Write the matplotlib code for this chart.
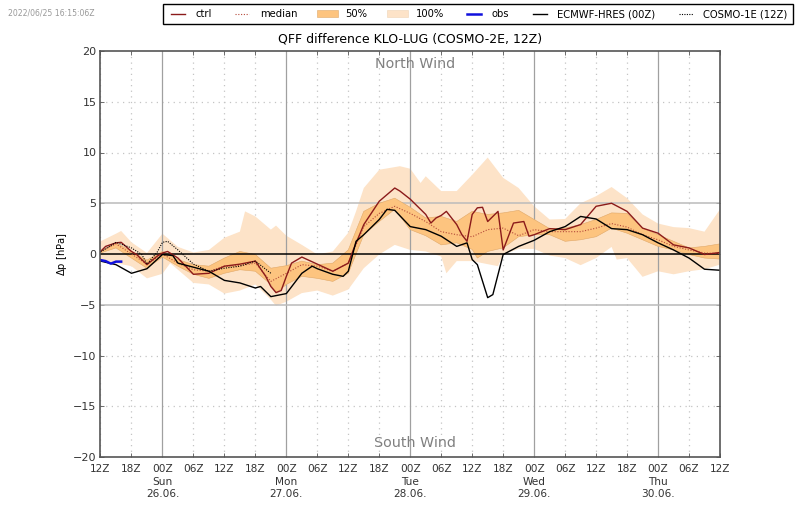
import numpy as np
import matplotlib
matplotlib.use("Agg")
import matplotlib.pyplot as plt
from matplotlib.patches import Patch
from matplotlib.lines import Line2D
from matplotlib.legend_handler import HandlerLine2D

# hours after the 12Z start, 3-hourly base grid
hours = list(range(0, 121, 3))

# 100% envelope
upper100_h = [0, 3, 4, 6, 9, 12, 15, 18, 21, 24, 27, 28, 30, 33, 34, 36, 39, 42, 45, 48, 49.5, 51, 54, 58, 60, 62,
              63, 66, 69, 72, 75, 78, 81, 84, 87, 90, 93, 96, 99, 102, 105, 108, 111, 114, 117, 120]
upper100 = [1.25, 2.0, 2.27, 1.15, 0.1, 2.0, 0.7, 0.15, 0.4, 1.6, 2.2, 4.2, 3.7, 2.4, 2.8, 1.8, 0.9, -0.05, 0.25, 2.1,
            4.2, 6.5, 8.3, 8.65, 8.4, 7.0, 7.66, 6.2, 6.2, 7.8, 9.5, 7.5, 6.5, 4.7, 3.4, 3.45, 5.0, 5.7, 6.6, 5.5,
            3.9, 3.0, 2.65, 2.55, 2.2, 4.4]
lower100_h = [0, 3, 6, 9, 12, 13.5, 15, 18, 21, 24, 27, 30, 33, 34, 36, 39, 42, 45, 48, 51, 54, 57, 60, 63, 66, 67,
              69, 72, 75, 77, 78, 81, 84, 87, 90, 93, 96, 99, 100, 102, 105, 108, 111, 114, 117, 120]
lower100 = [-0.55, -0.9, -1.2, -2.4, -1.95, -0.9, -1.55, -2.85, -3.0, -3.9, -3.6, -3.0, -4.5, -5.1, -4.7, -3.85, -3.6,
            -4.1, -3.5, -1.4, -0.05, 0.9, 0.4, 0.25, -0.25, -1.9, -0.7, -0.7, -1.0, -1.2, -0.05, 0.5, 0.5, -0.15,
            -0.4, -1.1, -0.4, 0.7, -0.55, -0.4, -2.25, -1.7, -2.0, -1.7, -1.5, -1.05]

# 50% band
upper50 = [0.25, 1.1, 0.25, -0.6, 0.25, -0.55, -1.05, -1.2, -0.4, 0.25, -0.05, -1.4, -1.15, -0.7, -1.05, -0.9, 0.4,
           4.2, 5.0, 5.5, 4.6, 3.55, 3.7, 3.2, 4.2, 3.9, 4.05, 4.3, 3.4, 2.5, 2.55, 2.9, 3.4, 4.05, 4.0, 2.55, 1.9,
           1.25, 0.6, 0.75, 1.0]
lower50_h = hours[:12] + [34, 36] + hours[13:25] + [73] + hours[25:]
lower50 = [0.1, 0.6, -0.4, -1.4, -0.3, -1.2, -2.0, -2.4, -1.9, -1.55, -1.7, -3.0, -3.85, -3.0, -2.2, -2.4, -2.7, -1.9,
           1.9, 3.2, 4.4, 2.4, 1.8, 0.9, 1.1, 0.45, -0.4, 0.25, 0.6, 1.7, 1.9, 1.9, 1.25, 1.4, 1.7, 2.55, 2.05, 1.4,
           0.75, 0.4, -0.05, -0.4, -0.5]
median = [0.25, 1.0, 0.0, -1.0, 0.0, -0.9, -1.55, -1.7, -1.2, -1.15, -0.9, -2.7, -1.9, -1.05, -1.2, -1.7, -0.9, 2.7,
          4.0, 4.7, 4.0, 3.2, 2.2, 1.9, 1.7, 2.4, 2.55, 1.8, 2.4, 2.2, 2.2, 2.2, 2.55, 3.0, 2.65, 1.9, 1.4, 0.75, 0.4,
          0.1, 0.05]

# control run
ctrl_h = [0, 1, 3, 4, 6, 7, 9, 11, 12, 13, 15, 18, 21, 24, 27, 30, 32, 33, 34, 35, 36, 37, 39, 42, 45, 48, 49, 51, 54,
          57, 58, 60, 63, 64, 65, 66, 67, 69, 70, 71, 72, 73, 74, 75, 77, 78, 80, 82, 83, 84, 87, 90, 93, 96, 99, 102,
          105, 108, 111, 114, 117, 120]
ctrl = [0.25, 0.75, 1.1, 1.15, 0.25, -0.05, -1.05, -0.2, 0.1, 0.25, -0.4, -2.0, -1.9, -1.2, -1.0, -0.7, -2.2, -3.2,
        -3.8, -3.6, -2.2, -0.9, -0.3, -1.0, -1.7, -0.9, 0.45, 2.9, 5.2, 6.5, 6.2, 5.4, 3.9, 3.05, 3.55, 3.8, 4.2, 2.9,
        1.9, 1.25, 3.9, 4.55, 4.6, 3.2, 4.2, 0.4, 3.05, 3.2, 1.75, 1.9, 2.5, 2.4, 2.9, 4.7, 5.0, 4.2, 2.55, 2.05, 0.9,
        0.6, -0.05, 0.15]

# ECMWF-HRES
hres_h = [0, 3, 6, 9, 12, 14, 15, 18, 21, 24, 27, 30, 31, 33, 36, 39, 41, 42, 45, 47, 48, 49.5, 51, 54, 55.5, 57, 60,
          63, 66, 69, 71, 72, 73, 75, 76, 78, 81, 84, 87, 90, 93, 96, 99, 102, 105, 108, 111, 114, 117, 120]
hres = [-0.7, -1.05, -1.9, -1.45, -0.05, -0.15, -0.9, -1.3, -1.7, -2.6, -2.85, -3.35, -3.2, -4.2, -3.9, -1.9, -1.2,
        -1.45, -2.0, -2.2, -1.7, 1.25, 1.9, 3.4, 4.4, 4.3, 2.7, 2.4, 1.75, 0.75, 1.1, -0.55, -1.05, -4.3, -4.0, -0.05,
        0.75, 1.35, 2.2, 2.7, 3.7, 3.45, 2.5, 2.4, 1.9, 1.1, 0.4, -0.4, -1.5, -1.6]

# COSMO-1E
c1e_h = [0, 3, 6, 8, 9, 11, 12, 13, 15, 18, 21, 24, 27, 30, 33]
c1e = [0.2, 1.15, 0.6, -0.05, -1.0, 0.2, 1.15, 1.25, 0.4, -1.0, -1.7, -1.4, -1.2, -0.7, -1.9]

# observations
obs_h = [0, 1, 2, 3, 4]
obs = [-0.6, -0.7, -0.95, -0.75, -0.75]

xticks = list(range(0, 121, 6))
xlabels = ["12Z", "18Z", "00Z\nSun\n26.06.", "06Z", "12Z", "18Z", "00Z\nMon\n27.06.", "06Z", "12Z", "18Z",
           "00Z\nTue\n28.06.", "06Z", "12Z", "18Z", "00Z\nWed\n29.06.", "06Z", "12Z", "18Z", "00Z\nThu\n30.06.",
           "06Z", "12Z"]

col50 = "#fdc47f"
col100 = "#fde3c8"
red = "#8b1a1a"

plt.rcParams["font.size"] = 7.2

fig = plt.figure(figsize=(8, 5.09), dpi=100)
ax = fig.add_axes([100.5 / 800, 1 - 457 / 509, 619.5 / 800, 406 / 509])

# dotted minor grid, solid grey at 00Z and +-5
for x in xticks:
    if x % 24 == 12:
        ax.axvline(x, color="#a0a0a0", lw=0.9, zorder=3)
    else:
        ax.axvline(x, color="#c4c4c4", lw=0.9, ls=(0, (1, 3.5)), zorder=1)
for y in range(-15, 20, 5):
    if y == 0:
        continue
    if abs(y) == 5:
        ax.axhline(y, color="#bbbbbb", lw=1.1, zorder=3)
    else:
        ax.axhline(y, color="#c4c4c4", lw=0.9, ls=(0, (1, 3.5)), zorder=1)

ax.fill(np.r_[upper100_h, lower100_h[::-1]], np.r_[upper100, lower100[::-1]], color=col100, lw=0, zorder=2)
ax.fill(np.r_[hours, lower50_h[::-1]], np.r_[upper50, lower50[::-1]], facecolor=col50, edgecolor="#e0a868", lw=0.4,
        zorder=4)
ax.axhline(0, color="black", lw=1.1, zorder=5)
ax.plot(hours, median, color="#b5493a", lw=0.8, ls=(0, (1, 1.5)), zorder=6)
ax.plot(ctrl_h, ctrl, color=red, lw=1.0, zorder=7)
ax.plot(hres_h, hres, color="black", lw=1.0, zorder=7)
ax.plot(c1e_h, c1e, color="black", lw=0.8, ls=(0, (1, 1.2)), zorder=7)
ax.plot(obs_h, obs, color="#1010dd", lw=1.8, zorder=8)

ax.set_xlim(0, 120)
ax.set_ylim(-20, 20)
ax.set_yticks(range(-20, 25, 5))
ax.set_xticks(xticks)
ax.set_xticklabels(xlabels, linespacing=1.33)
ax.tick_params(direction="in", length=3, width=0.6, color="#555555", labelsize=7.6, labelcolor="#333333")
ax.tick_params(axis="x", pad=5)
ax.tick_params(axis="y", pad=3, labelsize=8)
ax.tick_params(top=True, right=True)
for s in ax.spines.values():
    s.set_linewidth(1.2)
    s.set_color("#555555")
    s.set_zorder(10)

ax.set_ylabel("$\\Delta$p [hPa]", fontsize=7.2, labelpad=3)
ax.set_title("QFF difference KLO-LUG (COSMO-2E, 12Z)", fontsize=9, pad=6)
ax.text(61, 18.7, "North Wind", ha="center", va="center", fontsize=10.3, color="#808080", zorder=9)
ax.text(61, -18.6, "South Wind", ha="center", va="center", fontsize=10.3, color="#808080", zorder=9)

fig.text(8 / 800, 1 - 12.5 / 509, "2022/06/25 16:15:06Z", fontsize=5.6, color="#999999", va="center")

handles = [
    Line2D([], [], color=red, lw=1.0),
    Line2D([], [], color="#b5493a", lw=0.8, ls=(0, (1, 1.5))),
    Patch(facecolor=col50, edgecolor="#e0a868", lw=0.4),
    Patch(facecolor=col100, edgecolor="#f0d5b5", lw=0.4),
    Line2D([], [], color="#1010dd", lw=1.8),
    Line2D([], [], color="black", lw=1.0),
    Line2D([], [], color="black", lw=0.8, ls=(0, (1, 1.2))),
]
labels = ["ctrl", "median", "50%", "100%", "obs", "ECMWF-HRES (00Z)", "COSMO-1E (12Z)"]
leg = fig.legend(handles, labels, ncol=7, loc="center", bbox_to_anchor=(477.5 / 800, 1 - 14.3 / 509), fontsize=7.2,
                 frameon=True, fancybox=False, edgecolor="black", framealpha=1, borderpad=0.5, handlelength=2.1,
                 handletextpad=0.7, columnspacing=2.0, borderaxespad=0,
                 handler_map={Line2D: HandlerLine2D(numpoints=2, marker_pad=0.35)})
leg.get_frame().set_linewidth(1.0)

fig.savefig("out.png", dpi=100)
plt.close(fig)
